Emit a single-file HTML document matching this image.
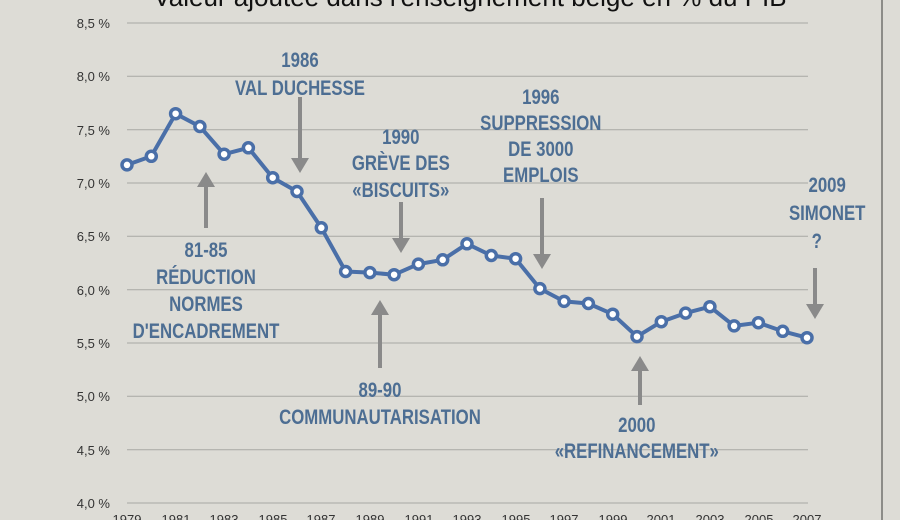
<!DOCTYPE html>
<html><head><meta charset="utf-8"><style>
html,body{margin:0;padding:0;background:#dddcd6;}
svg{display:block}
.t{font-family:"Liberation Sans",sans-serif;font-weight:bold;font-size:21px;fill:#4d6e93;text-anchor:middle}
.ax{font-family:"Liberation Sans",sans-serif;font-size:13px;fill:#333}
</style></head><body>
<svg width="900" height="520" viewBox="0 0 900 520" xmlns="http://www.w3.org/2000/svg">
<rect width="900" height="520" fill="#dddcd6"/>
<line x1="882" y1="0" x2="882" y2="520" stroke="#8c8c88" stroke-width="2"/>
<text x="470" y="6" font-family="Liberation Sans, sans-serif" font-size="26" fill="#111" text-anchor="middle">Valeur ajoutée dans l'enseignement belge en % du PIB</text>
<g stroke="#a8a8a4" stroke-width="1">
<line x1="127" x2="808" y1="23" y2="23"/><line x1="127" x2="808" y1="76.3" y2="76.3"/>
<line x1="127" x2="808" y1="129.7" y2="129.7"/><line x1="127" x2="808" y1="183" y2="183"/>
<line x1="127" x2="808" y1="236.3" y2="236.3"/><line x1="127" x2="808" y1="289.7" y2="289.7"/>
<line x1="127" x2="808" y1="343" y2="343"/><line x1="127" x2="808" y1="396.3" y2="396.3"/>
<line x1="127" x2="808" y1="449.7" y2="449.7"/><line x1="127" x2="808" y1="503" y2="503"/>
</g>
<g class="ax" text-anchor="end">
<text x="110" y="28">8,5 %</text><text x="110" y="81">8,0 %</text><text x="110" y="135">7,5 %</text>
<text x="110" y="188">7,0 %</text><text x="110" y="241">6,5 %</text><text x="110" y="295">6,0 %</text>
<text x="110" y="348">5,5 %</text><text x="110" y="401">5,0 %</text><text x="110" y="455">4,5 %</text>
<text x="110" y="508">4,0 %</text>
</g>
<g class="ax" text-anchor="middle">
<text x="127" y="524">1979</text><text x="176" y="524">1981</text><text x="224" y="524">1983</text>
<text x="273" y="524">1985</text><text x="321" y="524">1987</text><text x="370" y="524">1989</text>
<text x="419" y="524">1991</text><text x="467" y="524">1993</text><text x="516" y="524">1995</text>
<text x="564" y="524">1997</text><text x="613" y="524">1999</text><text x="661" y="524">2001</text>
<text x="710" y="524">2003</text><text x="759" y="524">2005</text><text x="807" y="524">2007</text>
</g>
<g fill="#8a8a8a" stroke="#8a8a8a" stroke-width="4">
<line x1="300" y1="97" x2="300" y2="160"/><polygon stroke="none" points="291,158 309,158 300,173"/>
<line x1="206" y1="228" x2="206" y2="185"/><polygon stroke="none" points="197,187 215,187 206,172"/>
<line x1="401" y1="202" x2="401" y2="240"/><polygon stroke="none" points="392,238 410,238 401,253"/>
<line x1="542" y1="198" x2="542" y2="256"/><polygon stroke="none" points="533,254 551,254 542,269"/>
<line x1="380" y1="368" x2="380" y2="313"/><polygon stroke="none" points="371,315 389,315 380,300"/>
<line x1="640" y1="405" x2="640" y2="369"/><polygon stroke="none" points="631,371 649,371 640,356"/>
<line x1="815" y1="268" x2="815" y2="306"/><polygon stroke="none" points="806,304 824,304 815,319"/>
</g>
<g class="t" transform="scale(0.8,1)">
<text x="375" y="67">1986</text><text x="375" y="95">VAL DUCHESSE</text>
<text x="501" y="144">1990</text><text x="501" y="170">GRÈVE DES</text><text x="501" y="197">«BISCUITS»</text>
<text x="676" y="104">1996</text><text x="676" y="130">SUPPRESSION</text><text x="676" y="156">DE 3000</text><text x="676" y="182">EMPLOIS</text>
<text x="1034" y="192">2009</text><text x="1034" y="220">SIMONET</text><text x="1021" y="248">?</text>
<text x="257.5" y="257">81-85</text><text x="257.5" y="284">RÉDUCTION</text><text x="257.5" y="311">NORMES</text><text x="257.5" y="338">D'ENCADREMENT</text>
<text x="475" y="397">89-90</text><text x="475" y="424">COMMUNAUTARISATION</text>
<text x="796" y="432">2000</text><text x="796" y="458">«REFINANCEMENT»</text>
</g>
<polyline fill="none" stroke="#4a6fa8" stroke-width="4" stroke-linejoin="round" points="127,164.9 151.3,156.3 175.6,113.7 199.9,126.5 224.1,154.2 248.4,147.8 272.7,177.7 297,191.5 321.3,227.8 345.6,271.5 369.9,272.6 394.1,274.7 418.4,264.1 442.7,259.8 467,243.8 491.3,255.5 515.6,258.7 539.9,288.6 564.1,301.4 588.4,303.5 612.7,314.2 637,336.6 661.3,321.7 685.6,313.1 709.9,306.7 734.1,325.9 758.4,322.7 782.7,331.3 807,337.7"/>
<g fill="#fff" stroke="#4a6fa8" stroke-width="3.5">
<circle cx="127" cy="164.9" r="5"/><circle cx="151.3" cy="156.3" r="5"/><circle cx="175.6" cy="113.7" r="5"/><circle cx="199.9" cy="126.5" r="5"/><circle cx="224.1" cy="154.2" r="5"/><circle cx="248.4" cy="147.8" r="5"/><circle cx="272.7" cy="177.7" r="5"/><circle cx="297" cy="191.5" r="5"/><circle cx="321.3" cy="227.8" r="5"/><circle cx="345.6" cy="271.5" r="5"/><circle cx="369.9" cy="272.6" r="5"/><circle cx="394.1" cy="274.7" r="5"/><circle cx="418.4" cy="264.1" r="5"/><circle cx="442.7" cy="259.8" r="5"/><circle cx="467" cy="243.8" r="5"/><circle cx="491.3" cy="255.5" r="5"/><circle cx="515.6" cy="258.7" r="5"/><circle cx="539.9" cy="288.6" r="5"/><circle cx="564.1" cy="301.4" r="5"/><circle cx="588.4" cy="303.5" r="5"/><circle cx="612.7" cy="314.2" r="5"/><circle cx="637" cy="336.6" r="5"/><circle cx="661.3" cy="321.7" r="5"/><circle cx="685.6" cy="313.1" r="5"/><circle cx="709.9" cy="306.7" r="5"/><circle cx="734.1" cy="325.9" r="5"/><circle cx="758.4" cy="322.7" r="5"/><circle cx="782.7" cy="331.3" r="5"/><circle cx="807" cy="337.7" r="5"/>
</g>
</svg>
</body></html>
